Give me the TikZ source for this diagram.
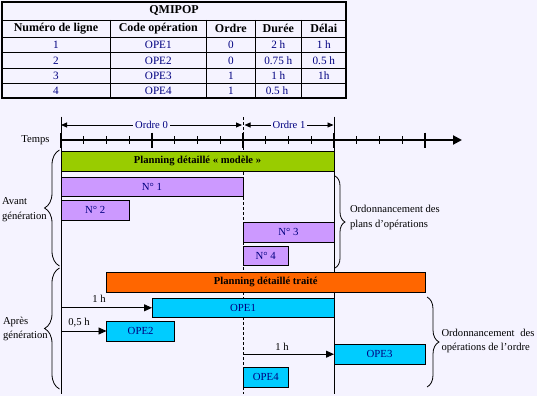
\documentclass[tikz,border=0pt]{standalone}
\usepackage{fontspec}
\setmainfont{Liberation Serif}
\usetikzlibrary{arrows.meta,decorations.pathreplacing}
\definecolor{bg}{RGB}{245,243,255}
\definecolor{navy}{RGB}{0,0,128}
\definecolor{gbar}{RGB}{153,204,0}
\definecolor{obar}{RGB}{255,102,0}
\definecolor{pbar}{RGB}{204,153,255}
\definecolor{cbar}{RGB}{0,204,255}
\begin{document}
\begin{tikzpicture}[x=1pt,y=-1pt,
  every node/.style={inner sep=0pt,outer sep=0pt},
  lbl/.style={font=\fontsize{10.6}{14.5}\selectfont},
  bluelbl/.style={lbl,text=navy},
  bar/.style={draw=black,line width=0.9pt,anchor=north west,font=\fontsize{10.8}{13}\selectfont,text=navy},
  bigbar/.style={bar,text=black,font=\bfseries\fontsize{10.6}{13}\selectfont},
  th/.style={font=\bfseries\fontsize{12}{13}\selectfont},
  td/.style={font=\fontsize{11.2}{13}\selectfont,text=navy},
  tline/.style={line width=0.8pt},
  axisline/.style={line width=2pt},
  majortick/.style={line width=2pt},
  minortick/.style={line width=0.8pt},
  vline/.style={line width=0.9pt},
  dline/.style={line width=0.8pt,dash pattern=on 3pt off 2pt},
  ordarrow/.style={line width=0.9pt,{Triangle[length=6pt,width=5pt]}-{Triangle[length=6pt,width=5pt]}},
  harrow/.style={line width=0.9pt,-{Triangle[length=8pt,width=7pt]}},
  bracedeco/.style={line width=0.8pt,decorate,decoration={brace,amplitude=#1}}
]
\useasboundingbox (0,0) rectangle (537,396);
\fill[bg] (0,0) rectangle (537,396);

% ---------- table ----------
\draw[tline] (2,20) -- (346,20);
\foreach \yy in {37.3,52.7,68.3,83.3} \draw[tline] (2,\yy) -- (346,\yy);
\foreach \xx in {110,206.7,255,301.7} \draw[tline] (\xx,20) -- (\xx,98.3);
\draw[line width=1.8pt] (2,2) rectangle (346,98.3);
\node[th] (title) at (174,11) {QMIPOP};
\node[th] (h1) at (56,28.7) {Numéro de ligne};
\node[th] (h2) at (158.3,28.7) {Code opération};
\node[th] (h3) at (230.8,28.7) {Ordre};
\node[th] (h4) at (278.3,28.7) {Durée};
\node[th] (h5) at (323.8,28.7) {Délai};
\foreach \yy/\a/\b/\c/\d/\e [count=\i] in {45/1/OPE1/0/2 h/1 h,60.5/2/OPE2/0/0.75 h/0.5 h,75.8/3/OPE3/1/1 h/1h}{
  \node[td] (r\i c1) at (56,\yy) {\a};
  \node[td] (r\i c2) at (158.3,\yy) {\b};
  \node[td] (r\i c3) at (230.8,\yy) {\c};
  \node[td] (r\i c4) at (278.3,\yy) {\d};
  \node[td] (r\i c5) at (323.8,\yy) {\e};
}
\node[td] (r4c1) at (56,90.8) {4};
\node[td] (r4c2) at (158.3,90.8) {OPE4};
\node[td] (r4c3) at (230.8,90.8) {1};
\node[td] (r4c4) at (277,90.8) {0.5 h};

% ---------- time axis ----------
\coordinate (ax0) at (61,140);
\coordinate (axend) at (462,140);
\draw[axisline,-{Triangle[length=9pt,width=9pt]}] (ax0) -- (axend);
\foreach \k in {1,2,3,5,6,7,9,10,11,13,14,15}
  \draw[minortick] ({61+22.75*\k},136) -- ({61+22.75*\k},144);
\foreach \k in {0,...,4}
  \draw[majortick] ({61+91*\k},132.5) -- ({61+91*\k},147.5);
\node[lbl,anchor=east] (temps) at (49.5,140) {Temps};

% vertical reference lines
\coordinate (vl0) at (61,116.5);
\coordinate (vl0b) at (61,393.5);
\coordinate (vr0) at (334,116.5);
\coordinate (vr0b) at (334,393.5);
\coordinate (vd0) at (243,117);
\coordinate (vd0b) at (243,393.5);
\draw[vline] (vl0) -- (vl0b);
\draw[vline] (vr0) -- (vr0b);
\draw[dline] (vd0) -- (vd0b);

% ordre arrows
\coordinate (o0a) at (61,125);
\coordinate (o0b) at (242,125);
\coordinate (o1a) at (244.5,125);
\coordinate (o1b) at (333.5,125);
\draw[ordarrow] (o0a) -- (o0b) node[midway,fill=bg,inner xsep=2pt,inner ysep=1pt,bluelbl] (ord0) {Ordre 0};
\draw[ordarrow] (o1a) -- (o1b) node[midway,fill=bg,inner xsep=2pt,inner ysep=1pt,bluelbl] (ord1) {Ordre 1};

% ---------- before generation ----------
\node[bigbar,fill=gbar,minimum width=273pt,minimum height=19.3pt] (model) at (61,151.7) {Planning détaillé « modèle »};
\node[bar,fill=pbar,minimum width=182pt,minimum height=19pt] (n1) at (61,177.3) {N° 1};
\node[bar,fill=pbar,minimum width=68.25pt,minimum height=20pt] (n2) at (61,200) {N° 2};
\node[bar,fill=pbar,minimum width=91pt,minimum height=20pt] (n3) at (243,222) {N° 3};
\node[bar,fill=pbar,minimum width=45.5pt,minimum height=19.3pt] (n4) at (243,246) {N° 4};

% ---------- after generation ----------
\node[bigbar,fill=obar,minimum width=318.5pt,minimum height=20pt] (traite) at (106.5,272.3) {Planning détaillé traité};
\node[bar,fill=cbar,minimum width=182pt,minimum height=19pt] (ope1) at (152,298.3) {OPE1};
\node[bar,fill=cbar,minimum width=68.25pt,minimum height=20pt] (ope2) at (106.5,321) {OPE2};
\node[bar,fill=cbar,minimum width=91pt,minimum height=19.7pt] (ope3) at (334,344.3) {OPE3};
\node[bar,fill=cbar,minimum width=45.5pt,minimum height=20pt] (ope4) at (243,367.3) {OPE4};

\coordinate (a1) at (61,307.8);
\coordinate (a2) at (61,331);
\coordinate (a3) at (243,354.2);
\draw[harrow] (a1) -- (a1 -| ope1.west);
\draw[harrow] (a2) -- (a2 -| ope2.west);
\draw[harrow] (a3) -- (a3 -| ope3.west);
\node[lbl] (l1) at (99,299.3) {1 h};
\node[lbl] (l2) at (79,322.7) {0,5 h};
\node[lbl] (l3) at (282,347.3) {1 h};

% ---------- braces ----------
\coordinate (b1a) at (59.5,266);
\coordinate (b1b) at (59.5,150);
\coordinate (b2a) at (59.5,389);
\coordinate (b2b) at (59.5,268);
\coordinate (b3a) at (335,176);
\coordinate (b3b) at (335,268);
\coordinate (b4a) at (427,297);
\coordinate (b4b) at (427,387);
\draw[bracedeco=15pt] (b1a) -- (b1b);
\draw[bracedeco=15pt] (b2a) -- (b2b);
\draw[bracedeco=10pt] (b3a) -- (b3b);
\draw[bracedeco=12pt] (b4a) -- (b4b);

\node[lbl,anchor=west,align=left] (avant) at (2,209.5) {Avant\\génération};
\node[lbl,anchor=west,align=left] (apres) at (3,329) {Après\\génération};
\node[lbl,anchor=west,align=left] (ordplans) at (350,217.5) {Ordonnancement des\\plans d’opérations};
\node[lbl,anchor=west,align=left] (ordops) at (441.5,341) {\makebox[93pt][s]{Ordonnancement des}\\opérations de l’ordre};
\end{tikzpicture}
\end{document}
